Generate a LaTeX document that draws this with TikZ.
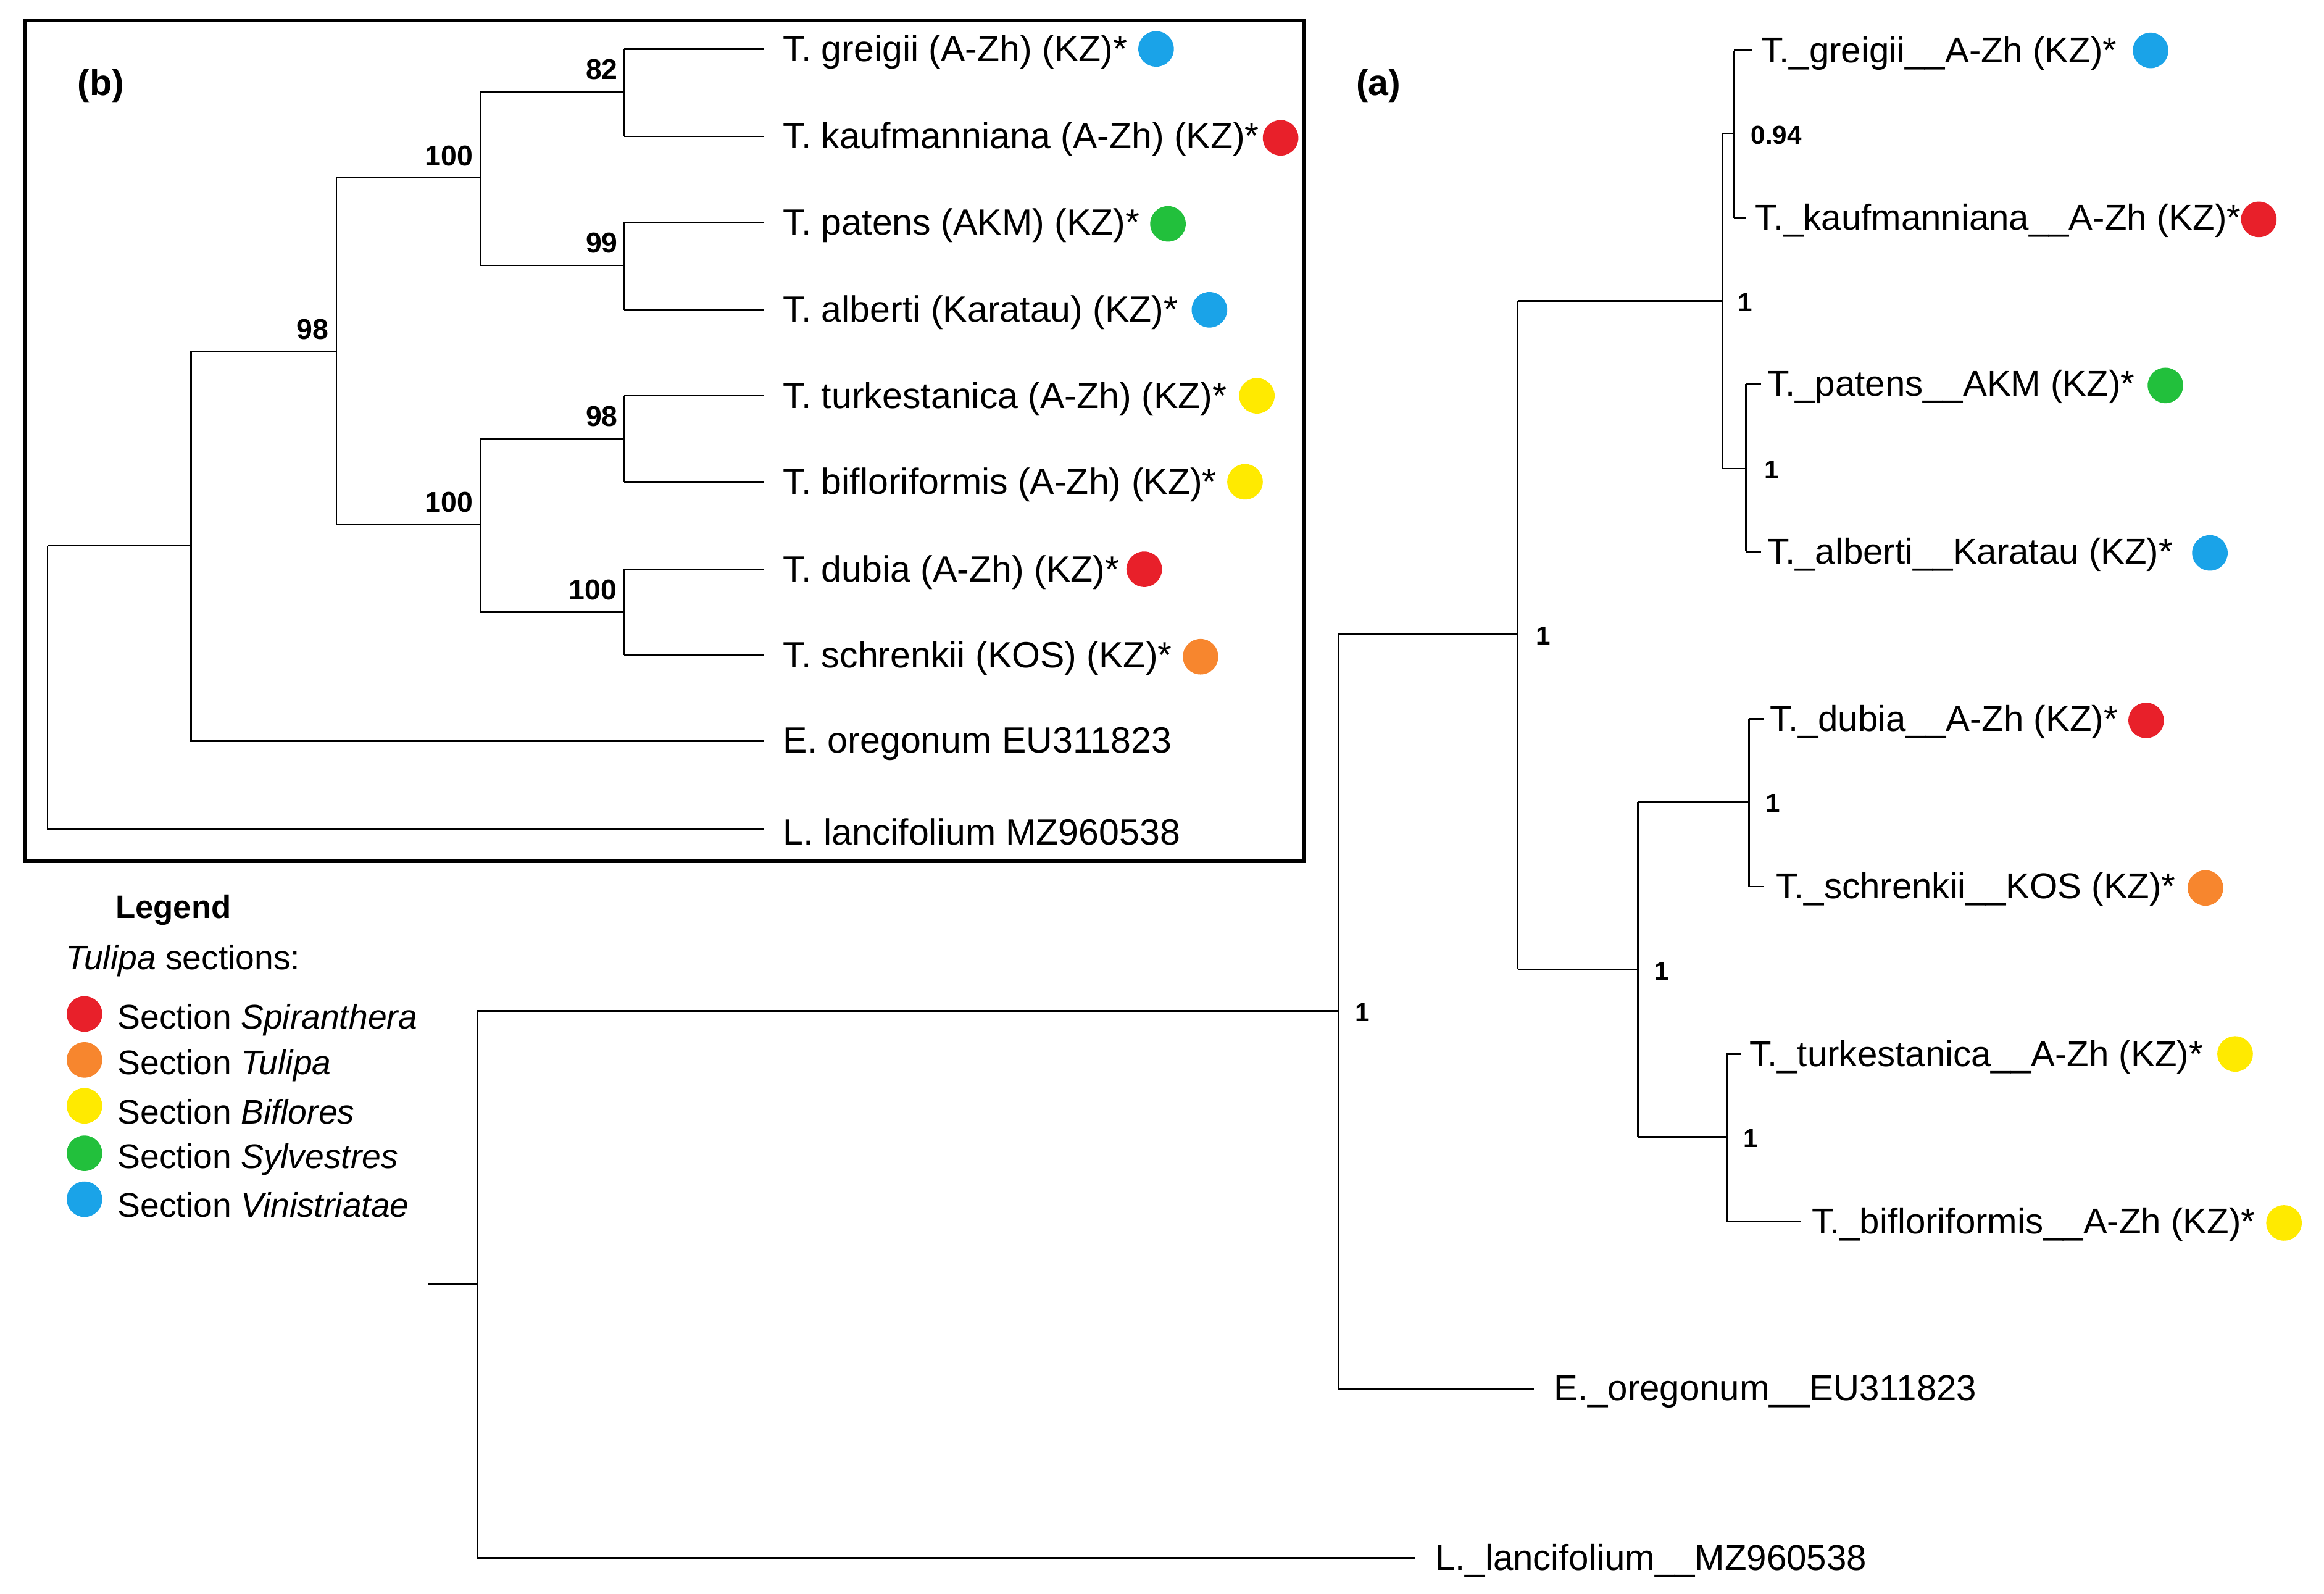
\documentclass[tikz,border=0pt]{standalone}
\usepackage{fontspec}
\setmainfont{Liberation Sans}
\begin{document}
\definecolor{cR}{HTML}{E8202A}
\definecolor{cO}{HTML}{F7862E}
\definecolor{cY}{HTML}{FFEA00}
\definecolor{cG}{HTML}{22C03C}
\definecolor{cB}{HTML}{1AA3E8}
\begin{tikzpicture}[x=0.02cm,y=-0.02cm,
 br/.style={line width=0.6pt},
 lf/.style={anchor=west,inner sep=0pt,yshift=-0.04cm,font=\fontsize{14}{16}\selectfont},
 lfa/.style={anchor=west,inner sep=0pt,yshift=-0.04cm,font=\fontsize{13.8}{16}\selectfont},
 lg/.style={anchor=west,inner sep=0pt,yshift=-0.04cm,font=\fontsize{13.1}{15}\selectfont},
 sup/.style={font=\bfseries\fontsize{11}{12}\selectfont,inner sep=0pt},
 supa/.style={font=\bfseries\fontsize{10}{11}\selectfont,inner sep=0pt,anchor=west},
 dot/.style={circle,fill=#1,inner sep=0pt,minimum size=0.48cm}]
\useasboundingbox (0,0) rectangle (1568,1075);
% ---------- panel b
\draw[line width=1.3pt] (17,14) rectangle (880,581);
\node[font=\bfseries\fontsize{14}{16}\selectfont] (lb) at (68,58) {(b)};
\foreach \n/\y in {1/33,2/92,3/150,4/209,5/267,6/325,7/384,8/442}{\draw[br] (421,\y) -- (515,\y);}
\draw[br] (421,33)--(421,92) (324,62)--(421,62);
\draw[br] (421,150)--(421,209) (324,179)--(421,179);
\draw[br] (324,62)--(324,179) (227,120)--(324,120);
\draw[br] (421,267)--(421,325) (324,296)--(421,296);
\draw[br] (421,384)--(421,442) (324,413)--(421,413);
\draw[br] (324,296)--(324,413) (227,354)--(324,354);
\draw[br] (227,120)--(227,354) (129,237)--(227,237);
\draw[br] (129,237)--(129,500) -- (515,500);
\draw[br] (32,368)--(129,368);
\draw[br] (32,368)--(32,559) -- (515,559);
\node[sup] (s1) at (406,47) {82};
\node[sup] (s2) at (406,164) {99};
\node[sup] (s3) at (303,105) {100};
\node[sup] (s4) at (406,281) {98};
\node[sup] (s5) at (400,398) {100};
\node[sup] (s6) at (303,339) {100};
\node[sup] (s7) at (211,222) {98};
\node[lf] (b1) at (528,33) {T. greigii (A-Zh) (KZ)*};
\node[lf] (b2) at (528,92) {T. kaufmanniana (A-Zh) (KZ)*};
\node[lf] (b3) at (528,150) {T. patens (AKM) (KZ)*};
\node[lf] (b4) at (528,209) {T. alberti (Karatau) (KZ)*};
\node[lf] (b5) at (528,267) {T. turkestanica (A-Zh) (KZ)*};
\node[lf] (b6) at (528,325) {T. bifloriformis (A-Zh) (KZ)*};
\node[lf] (b7) at (528,384) {T. dubia (A-Zh) (KZ)*};
\node[lf] (b8) at (528,442) {T. schrenkii (KOS) (KZ)*};
\node[lf] (b9) at (528,500) {E. oregonum EU311823};
\node[lf] (b10) at (528,559) {L. lancifolium MZ960538};
\node[dot=cB] at (780,33) {};
\node[dot=cR] at (864,93) {};
\node[dot=cG] at (788,151) {};
\node[dot=cB] at (816,209) {};
\node[dot=cY] at (848,267) {};
\node[dot=cY] at (840,325) {};
\node[dot=cR] at (772,384) {};
\node[dot=cO] at (810,443) {};
% ---------- panel a
\node[font=\bfseries\fontsize{14}{16}\selectfont] (la) at (930,58) {(a)};
\draw[br] (1170,34)--(1182,34) (1170,147)--(1178,147) (1170,34)--(1170,147) (1162,90)--(1170,90);
\draw[br] (1178,259)--(1188,259) (1178,372)--(1188,372) (1178,259)--(1178,372) (1162,316)--(1178,316);
\draw[br] (1162,90)--(1162,316) (1024,203)--(1162,203);
\draw[br] (1180,485)--(1190,485) (1180,598)--(1190,598) (1180,485)--(1180,598) (1105,541)--(1180,541);
\draw[br] (1165,711)--(1175,711) (1165,824)--(1215,824) (1165,711)--(1165,824) (1105,767)--(1165,767);
\draw[br] (1105,541)--(1105,767) (1024,654)--(1105,654);
\draw[br] (1024,203)--(1024,654) (903,428)--(1024,428);
\draw[br] (903,428)--(903,937)--(1035,937) (322,682)--(903,682);
\draw[br] (322,682)--(322,1051)--(955,1051) (289,866)--(322,866);
\node[supa] (a1) at (1181,91) {0.94};
\node[supa] (a2) at (1172,204) {1};
\node[supa] (a3) at (1190,317) {1};
\node[supa] (a4) at (1191,542) {1};
\node[supa] (a5) at (1176,768) {1};
\node[supa] (a6) at (1116,655) {1};
\node[supa] (a7) at (1036,429) {1};
\node[supa] (a8) at (914,683) {1};
\node[lfa] (t1) at (1188,34) {T.\_greigii\_\_A-Zh (KZ)*};
\node[lfa] (t2) at (1184,147) {T.\_kaufmanniana\_\_A-Zh (KZ)*};
\node[lfa] (t3) at (1192,259) {T.\_patens\_\_AKM (KZ)*};
\node[lfa] (t4) at (1192,372) {T.\_alberti\_\_Karatau (KZ)*};
\node[lfa] (t5) at (1194,485) {T.\_dubia\_\_A-Zh (KZ)*};
\node[lfa] (t6) at (1198,598) {T.\_schrenkii\_\_KOS (KZ)*};
\node[lfa] (t7) at (1180,711) {T.\_turkestanica\_\_A-Zh (KZ)*};
\node[lfa] (t8) at (1222,824) {T.\_bifloriformis\_\_A-Zh (KZ)*};
\node[lfa] (t9) at (1048,937) {E.\_oregonum\_\_EU311823};
\node[lfa] (t10) at (968,1051) {L.\_lancifolium\_\_MZ960538};
\node[dot=cB] at (1451,34) {};
\node[dot=cR] at (1524,148) {};
\node[dot=cG] at (1461,260) {};
\node[dot=cB] at (1491,373) {};
\node[dot=cR] at (1448,486) {};
\node[dot=cO] at (1488,599) {};
\node[dot=cY] at (1508,711) {};
\node[dot=cY] at (1541,825) {};
% ---------- legend
\node[font=\bfseries\fontsize{12.5}{14}\selectfont] (lgd) at (117,614) {Legend};
\node[lg] (ls) at (44,646) {\textit{Tulipa} sections:};
\node[dot=cR] (d1) at (57,684) {};
\node[dot=cO] (d2) at (57,715) {};
\node[dot=cY] (d3) at (57,746) {};
\node[dot=cG] (d4) at (57,778) {};
\node[dot=cB] (d5) at (57,809) {};
\node[lg] (l1) at (79,686) {Section \textit{Spiranthera}};
\node[lg] (l2) at (79,717) {Section \textit{Tulipa}};
\node[lg] (l3) at (79,748) {Section \textit{Biflores}};
\node[lg] (l4) at (79,780) {Section \textit{Sylvestres}};
\node[lg] (l5) at (79,811) {Section \textit{Vinistriatae}};
\end{tikzpicture}
\end{document}
